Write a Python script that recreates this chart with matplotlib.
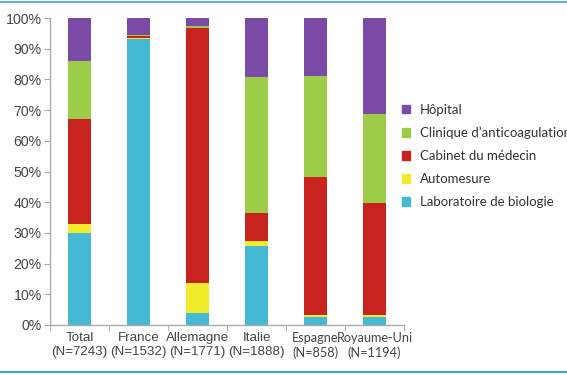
# -*- coding: utf-8 -*-
import matplotlib
matplotlib.use("Agg")
import matplotlib.pyplot as plt
from matplotlib.lines import Line2D
from matplotlib.patches import Patch

pays = ["Total\n(N=7243)", "France\n(N=1532)", "Allemagne\n(N=1771)",
        "Italie\n(N=1888)", "Espagne\n(N=858)", "Royaume-Uni\n(N=1194)"]

# parts en %, de bas en haut
laboratoire = [30.0, 93.0, 3.8, 25.7, 2.5, 2.5]
automesure = [3.0, 0.4, 9.9, 1.5, 0.7, 0.7]
cabinet = [34.0, 0.8, 83.0, 9.4, 44.9, 36.4]
clinique = [19.0, 0.3, 0.6, 44.2, 32.9, 29.0]
hopital = [14.0, 5.5, 2.7, 19.2, 19.0, 31.4]

series = [("Laboratoire de biologie", laboratoire, "#45b8d3"),
          ("Automesure", automesure, "#f0ec2c"),
          ("Cabinet du médecin", cabinet, "#c8231f"),
          ("Clinique d\u2019anticoagulation", clinique, "#9ccc48"),
          ("Hôpital", hopital, "#7b49a6")]

fig = plt.figure(figsize=(5.67, 3.75), dpi=100)
ax = fig.add_axes([50 / 567, 50 / 375, 354 / 567, 307 / 375])

x = list(range(len(pays)))
bottom = [0.0] * len(pays)
for nom, vals, col in series:
    ax.bar(x, vals, width=0.4, bottom=bottom, color=col, label=nom)
    bottom = [b + v for b, v in zip(bottom, vals)]

ax.set_xlim(-0.5, len(pays) - 0.5)
ax.set_ylim(0, 100)
ax.set_yticks(range(0, 101, 10))
ax.set_yticklabels([f"{v}%" for v in range(0, 101, 10)],
                   fontsize=10.2, family="Liberation Sans", color="#444444")
ax.set_xticks(x)
ax.set_xticklabels(pays, fontsize=9.6, family="Liberation Sans", color="#444444")
# les deux derniers libellés sont dans une police plus étroite
for t in ax.get_xticklabels()[4:]:
    t.set_family("Lato")
    t.set_fontsize(9.1)
ax.tick_params(axis="x", length=0, pad=5)
ax.set_xticks([i + 0.5 for i in range(-1, len(pays))], minor=True)
ax.tick_params(axis="x", which="minor", length=4, color="#aaaaaa")
ax.tick_params(axis="y", length=4, color="#aaaaaa", pad=2)

for s in ["top", "right"]:
    ax.spines[s].set_visible(False)
for s in ["left", "bottom"]:
    ax.spines[s].set_color("#aaaaaa")
    ax.spines[s].set_linewidth(1)

h = [Patch(color=c) for _, _, c in series][::-1]
l = [n for n, _, _ in series][::-1]
fig.legend(h, l, loc="upper left", bbox_to_anchor=(390 / 567, 1 - 92 / 375),
           frameon=False, handlelength=0.6, handleheight=0.6,
           handletextpad=0.75, labelspacing=0.83,
           prop={"family": "Lato", "size": 9.5}, labelcolor="#333333")

fig.add_artist(Line2D([0, 1], [1 - 2 / 375, 1 - 2 / 375], color="#3fa0d8", lw=1.2))
fig.add_artist(Line2D([0, 1], [3 / 375, 3 / 375], color="#3fa0d8", lw=1.5))

fig.savefig("out.png", dpi=100)
